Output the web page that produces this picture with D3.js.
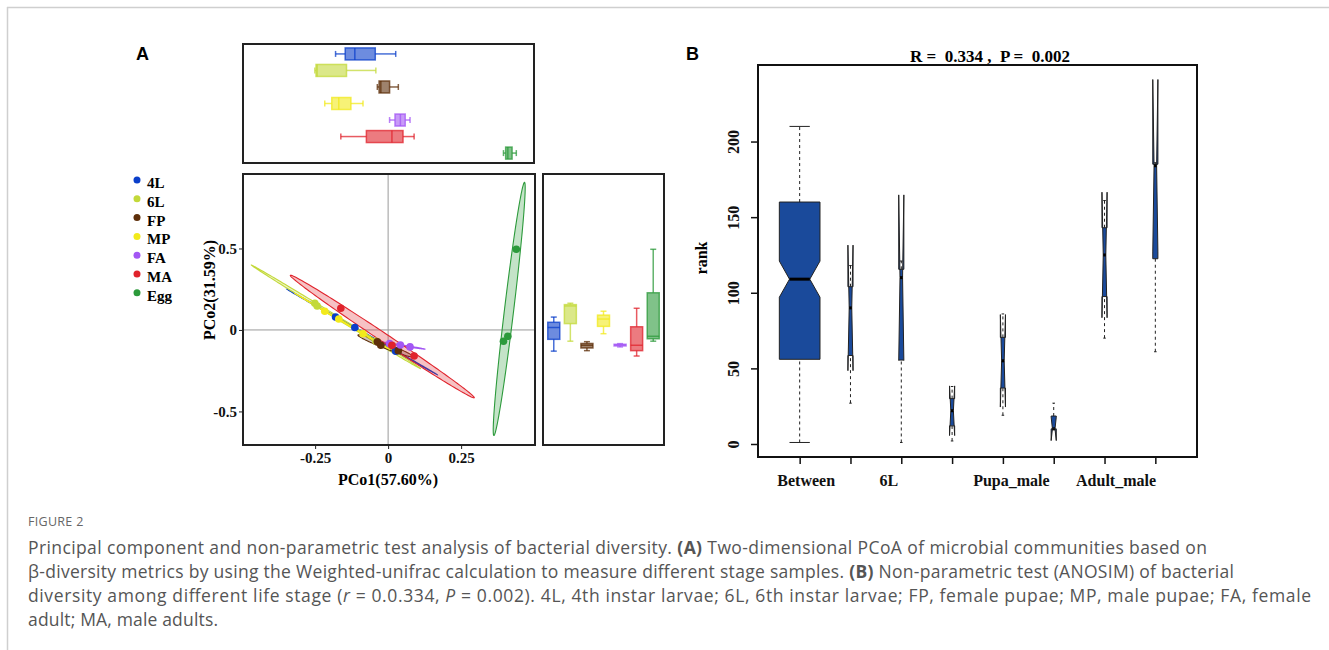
<!DOCTYPE html>
<html>
<head>
<meta charset="utf-8">
<script src="https://cdn.jsdelivr.net/npm/d3@7"></script>
<style>
  body { margin: 0; background: #fff; }
  svg { display: block; }
  .serif { font-family: "Liberation Serif", "Times New Roman", serif; font-weight: bold; }
  .cap { font-family: "Open Sans", "Noto Sans", sans-serif; fill: #555; }
</style>
</head>
<body>
<svg width="1329" height="650"></svg>
<script>
// --- Panel A data: PCoA scores (3 samples per stage) ---
const groups = ["4L", "6L", "FP", "MP", "FA", "MA", "Egg"];
const groupColors = ["#0b3fca", "#c3d93a", "#5e2f0a", "#f2ea1c", "#a357f4", "#e0232c", "#2c9a3b"];
const pco1 = [
  [-0.180, -0.114, 0.026],
  [-0.251, -0.243, -0.042],
  [-0.037, -0.025, 0.035],
  [-0.217, -0.169, -0.086],
  [0.005, 0.042, 0.075],
  [-0.162, 0.013, 0.089],
  [0.395, 0.410, 0.439]
];
const pco2 = [
  [0.079, 0.015, -0.130],
  [0.164, 0.147, -0.069],
  [-0.072, -0.094, -0.127],
  [0.115, 0.067, -0.023],
  [-0.084, -0.092, -0.104],
  [0.133, -0.094, -0.160],
  [-0.069, -0.039, 0.495]
];
const pcoXTicks = [-0.25, 0, 0.25];
const pcoYTicks = [-0.5, 0, 0.5];

// --- Panel B data: ANOSIM rank boxplots ---
const rankGroups = ["Between", "4L", "6L", "Pupa_female", "Pupa_male", "Adult_female", "Adult_male", "Egg"];
const rankMin = [1, 27, 1, 2, 19, 10, 70, 61];
const rankQ1 = [56, 58.5, 55.5, 12, 37, 10, 97.5, 122.5];
const rankMed = [109, 90, 110, 22, 55, 10, 125, 184];
const rankQ3 = [160, 104, 115.5, 30, 70.5, 18.5, 143, 185];
const rankMax = [210, 118, 121, 38, 86, 27, 161, 186];
const rankN = [189, 3, 3, 3, 3, 3, 3, 3];
const rankTicks = [0, 50, 100, 150, 200];

// --- Layout constants ---
const ELL_K = Math.sqrt(5.991); // 95% normal ellipse
const LABEL_NUDGE = { "Between": 6, "6L": -13, "Pupa_male": 8, "Adult_male": 11 };

const svg = d3.select("svg");

// --- Page frame ---
svg.append("line").attr("x1", 7).attr("x2", 1329).attr("y1", 7.5).attr("y2", 7.5)
  .attr("stroke", "#cfcfcf").attr("stroke-width", 1.5);
svg.append("line").attr("x1", 7.5).attr("x2", 7.5).attr("y1", 7).attr("y2", 650)
  .attr("stroke", "#cfcfcf").attr("stroke-width", 1.5);

svg.append("text").attr("x", 136).attr("y", 60).text("A")
  .style("font", "bold 18px 'Liberation Sans', Arial, sans-serif");
svg.append("text").attr("x", 686).attr("y", 60).text("B")
  .style("font", "bold 18px 'Liberation Sans', Arial, sans-serif");

// --- Panel A scales ---
const x = d3.scaleLinear().domain([-0.497, 0.503]).range([243, 535]);
const y = d3.scaleLinear().domain([-0.706, 0.957]).range([445, 174]);
const yTop = d3.scalePoint().domain(groups).range([44, 163]).padding(0.6);
const xRight = d3.scalePoint().domain(groups).range([543, 664]).padding(0.65);

function five(vals) {
  const s = vals.slice().sort(d3.ascending);
  return {
    min: s[0], q1: d3.quantileSorted(s, 0.25), med: d3.quantileSorted(s, 0.5),
    q3: d3.quantileSorted(s, 0.75), max: s[s.length - 1]
  };
}

function ellipsePoints(pts) {
  const n = pts.length;
  const mx = d3.mean(pts, d => d[0]), my = d3.mean(pts, d => d[1]);
  let a = 0, b = 0, d = 0;
  pts.forEach(p => {
    const dx = p[0] - mx, dy = p[1] - my;
    a += dx * dx; b += dx * dy; d += dy * dy;
  });
  a /= n - 1; b /= n - 1; d /= n - 1;
  const tr = (a + d) / 2, disc = Math.sqrt(((a - d) / 2) ** 2 + b * b);
  const l1 = tr + disc, l2 = Math.max(tr - disc, 0);
  let ex = b, ey = l1 - a;
  if (Math.hypot(ex, ey) < 1e-12) { ex = 1; ey = 0; }
  const nr = Math.hypot(ex, ey); ex /= nr; ey /= nr;
  const r1 = ELL_K * Math.sqrt(l1), r2 = ELL_K * Math.sqrt(l2);
  return d3.range(0, 360, 2).map(deg => {
    const t = deg * Math.PI / 180;
    const u = r1 * Math.cos(t), v = r2 * Math.sin(t);
    return [mx + u * ex - v * ey, my + u * ey + v * ex];
  });
}

// --- Panel A: main scatter ---
svg.append("clipPath").attr("id", "clipA").append("rect")
  .attr("x", 243).attr("y", 174).attr("width", 292).attr("height", 271);
const gA = svg.append("g").attr("clip-path", "url(#clipA)");

gA.append("line").attr("x1", x(0)).attr("x2", x(0)).attr("y1", 174).attr("y2", 445)
  .attr("stroke", "#9a9a9a").attr("stroke-width", 1);
gA.append("line").attr("x1", 243).attr("x2", 535).attr("y1", y(0)).attr("y2", y(0))
  .attr("stroke", "#9a9a9a").attr("stroke-width", 1);

const ellLine = d3.line().x(d => x(d[0])).y(d => y(d[1])).curve(d3.curveLinearClosed);
groups.forEach((g, i) => {
  const pts = pco1[i].map((v, j) => [v, pco2[i][j]]);
  gA.append("path").attr("d", ellLine(ellipsePoints(pts)))
    .attr("fill", groupColors[i]).attr("fill-opacity", 0.28)
    .attr("stroke", groupColors[i]).attr("stroke-width", 1.1);
});
groups.forEach((g, i) => {
  pco1[i].forEach((v, j) => {
    gA.append("circle").attr("cx", x(v)).attr("cy", y(pco2[i][j])).attr("r", 3.8)
      .attr("fill", groupColors[i]);
  });
});

svg.append("rect").attr("x", 243).attr("y", 174).attr("width", 292).attr("height", 271)
  .attr("fill", "none").attr("stroke", "#222").attr("stroke-width", 2);

// axes
const fmt = d => d === 0 ? "0" : String(d);
const axY = svg.append("g").attr("transform", "translate(243,0)")
  .call(d3.axisLeft(y).tickValues(pcoYTicks).tickFormat(fmt).tickSize(4).tickPadding(2));
const axX = svg.append("g").attr("transform", "translate(0,445)")
  .call(d3.axisBottom(x).tickValues(pcoXTicks).tickFormat(fmt).tickSize(4).tickPadding(3));
[axY, axX].forEach(ax => {
  ax.select(".domain").remove();
  ax.selectAll("line").attr("stroke", "#222");
  ax.selectAll("text").attr("class", "serif").style("font-size", "15px").attr("fill", "#111");
});

svg.append("text").attr("class", "serif").attr("transform", "translate(215,290) rotate(-90)")
  .attr("text-anchor", "middle").style("font-size", "16px").text("PCo2(31.59%)");
svg.append("text").attr("class", "serif").attr("x", 388).attr("y", 485)
  .attr("text-anchor", "middle").style("font-size", "16px").text("PCo1(57.60%)");

// legend
groups.forEach((g, i) => {
  const ly = 180 + i * 18.8;
  svg.append("circle").attr("cx", 137).attr("cy", ly).attr("r", 3.5).attr("fill", groupColors[i]);
  svg.append("text").attr("class", "serif").attr("x", 147).attr("y", ly + 8)
    .style("font-size", "15px").text(g);
});

// --- Panel A: top boxplots (PCo1) ---
const BOX_H = 12;
groups.forEach((g, i) => {
  const s = five(pco1[i]);
  const cy = yTop(g);
  const bg = svg.append("g").attr("stroke", groupColors[i]).attr("stroke-opacity", 0.75)
    .attr("stroke-width", 1.5);
  bg.append("line").attr("x1", x(s.min)).attr("x2", x(s.q1)).attr("y1", cy).attr("y2", cy);
  bg.append("line").attr("x1", x(s.q3)).attr("x2", x(s.max)).attr("y1", cy).attr("y2", cy);
  [s.min, s.max].forEach(v => bg.append("line").attr("x1", x(v)).attr("x2", x(v))
    .attr("y1", cy - 3).attr("y2", cy + 3));
  bg.append("rect").attr("x", x(s.q1)).attr("y", cy - BOX_H / 2)
    .attr("width", Math.max(x(s.q3) - x(s.q1), 1)).attr("height", BOX_H)
    .attr("fill", groupColors[i]).attr("fill-opacity", 0.6);
  bg.append("line").attr("x1", x(s.med)).attr("x2", x(s.med))
    .attr("y1", cy - BOX_H / 2).attr("y2", cy + BOX_H / 2);
});
svg.append("rect").attr("x", 243).attr("y", 44).attr("width", 291).attr("height", 119)
  .attr("fill", "none").attr("stroke", "#222").attr("stroke-width", 2);

// --- Panel A: right boxplots (PCo2) ---
groups.forEach((g, i) => {
  const s = five(pco2[i]);
  const cx = xRight(g);
  const bg = svg.append("g").attr("stroke", groupColors[i]).attr("stroke-opacity", 0.75)
    .attr("stroke-width", 1.5);
  bg.append("line").attr("x1", cx).attr("x2", cx).attr("y1", y(s.min)).attr("y2", y(s.q1));
  bg.append("line").attr("x1", cx).attr("x2", cx).attr("y1", y(s.q3)).attr("y2", y(s.max));
  [s.min, s.max].forEach(v => bg.append("line").attr("x1", cx - 3).attr("x2", cx + 3)
    .attr("y1", y(v)).attr("y2", y(v)));
  bg.append("rect").attr("x", cx - BOX_H / 2).attr("y", y(s.q3))
    .attr("width", BOX_H).attr("height", Math.max(y(s.q1) - y(s.q3), 1))
    .attr("fill", groupColors[i]).attr("fill-opacity", 0.6);
  bg.append("line").attr("x1", cx - BOX_H / 2).attr("x2", cx + BOX_H / 2)
    .attr("y1", y(s.med)).attr("y2", y(s.med));
});
svg.append("rect").attr("x", 543).attr("y", 174).attr("width", 121).attr("height", 271)
  .attr("fill", "none").attr("stroke", "#222").attr("stroke-width", 2);

// --- Panel B: notched boxplots of ranks ---
const nGroups = rankGroups.length;
const xB = d3.scaleLinear()
  .domain([0.5 - 0.04 * nGroups, nGroups + 0.5 + 0.04 * nGroups]).range([758, 1197]);
const notch = rankGroups.map((g, i) => 1.58 * (rankQ3[i] - rankQ1[i]) / Math.sqrt(rankN[i]));
const lo = d3.min(rankGroups, (g, i) => Math.min(rankMin[i], rankMed[i] - notch[i]));
const hi = d3.max(rankGroups, (g, i) => Math.max(rankMax[i], rankMed[i] + notch[i]));
const padB = (hi - lo) * 0.04;
const yB = d3.scaleLinear().domain([lo - padB, hi + padB]).range([457, 65]);
const maxN = d3.max(rankN);

const polyLine = d3.line().x(d => xB(d[0])).y(d => yB(d[1])).curve(d3.curveLinearClosed);
rankGroups.forEach((g, i) => {
  const at = i + 1;
  const w = 0.8 * Math.sqrt(rankN[i]) / Math.sqrt(maxN) / 2;
  const cLo = rankMed[i] - notch[i], cHi = rankMed[i] + notch[i];
  const poly = [
    [at - w, rankQ1[i]], [at + w, rankQ1[i]], [at + w, cLo], [at + w * 0.5, rankMed[i]],
    [at + w, cHi], [at + w, rankQ3[i]], [at - w, rankQ3[i]], [at - w, cHi],
    [at - w * 0.5, rankMed[i]], [at - w, cLo]
  ];
  svg.append("path").attr("d", polyLine(poly))
    .attr("fill", "#1a4a9b").attr("stroke", "#222").attr("stroke-width", 1);
  svg.append("line").attr("x1", xB(at - w * 0.5)).attr("x2", xB(at + w * 0.5))
    .attr("y1", yB(rankMed[i])).attr("y2", yB(rankMed[i]))
    .attr("stroke", "#000").attr("stroke-width", 3);
  [[rankMin[i], rankQ1[i]], [rankQ3[i], rankMax[i]]].forEach(([a, b]) => {
    if (a === b) return;
    svg.append("line").attr("x1", xB(at)).attr("x2", xB(at)).attr("y1", yB(a)).attr("y2", yB(b))
      .attr("stroke", "#222").attr("stroke-width", 1).attr("stroke-dasharray", "3,3");
  });
  [rankMin[i], rankMax[i]].forEach(v => {
    svg.append("line").attr("x1", xB(at - w * 0.5)).attr("x2", xB(at + w * 0.5))
      .attr("y1", yB(v)).attr("y2", yB(v)).attr("stroke", "#222").attr("stroke-width", 1);
  });
});

svg.append("rect").attr("x", 758).attr("y", 65).attr("width", 439).attr("height", 392)
  .attr("fill", "none").attr("stroke", "#111").attr("stroke-width", 2);

const axYB = svg.append("g").attr("transform", "translate(758,0)")
  .call(d3.axisLeft(yB).tickValues(rankTicks).tickSize(7));
axYB.select(".domain").remove();
axYB.selectAll("line").attr("stroke", "#111").attr("stroke-width", 1.5);
axYB.selectAll("text").attr("class", "serif").style("font-size", "16px").attr("fill", "#111")
  .attr("transform", "rotate(-90)").attr("x", 0).attr("y", -19).attr("dy", 0)
  .attr("text-anchor", "middle");

const axXB = svg.append("g").attr("transform", "translate(0,457)")
  .call(d3.axisBottom(xB).tickValues(d3.range(1, nGroups + 1)).tickSize(7)
    .tickFormat(d => (d % 2 === 1 ? rankGroups[d - 1] : "")));
axXB.select(".domain").remove();
axXB.selectAll("line").attr("stroke", "#111").attr("stroke-width", 1.5);
axXB.selectAll("text").attr("class", "serif").style("font-size", "16px").attr("fill", "#111")
  .attr("y", 29).attr("dy", 0)
  .attr("x", d => LABEL_NUDGE[rankGroups[d - 1]] || 0);

svg.append("text").attr("class", "serif").attr("transform", "translate(707,258) rotate(-90)")
  .attr("text-anchor", "middle").style("font-size", "16px").text("rank");
svg.append("text").attr("class", "serif").attr("x", 990).attr("y", 62)
  .attr("text-anchor", "middle").style("font-size", "17px").style("white-space", "pre")
  .text("R =  0.334 ,  P =  0.002");

// --- Caption ---
svg.append("text").attr("class", "cap").attr("x", 28).attr("y", 526)
  .style("font-size", "12.5px").style("letter-spacing", "0.3px").style("fill", "#666")
  .text("FIGURE 2");

const capLines = [
  [["Principal component and non-parametric test analysis of bacterial diversity. ", ""], ["(A)", "b"],
   [" Two-dimensional PCoA of microbial communities based on", ""]],
  [["β-diversity metrics by using the Weighted-unifrac calculation to measure different stage samples. ", ""],
   ["(B)", "b"], [" Non-parametric test (ANOSIM) of bacterial", ""]],
  [["diversity among different life stage (", ""], ["r", "i"], [" = 0.0.334, ", ""], ["P", "i"],
   [" = 0.002). 4L, 4th instar larvae; 6L, 6th instar larvae; FP, female pupae; MP, male pupae; FA, female", ""]],
  [["adult; MA, male adults.", ""]]
];
const capWidths = [1179, 1206, 1283, 190];
capLines.forEach((parts, li) => {
  const t = svg.append("text").attr("class", "cap").attr("x", 28).attr("y", 554 + li * 24)
    .attr("textLength", capWidths[li]).attr("lengthAdjust", "spacing")
    .style("font-size", "17.5px").style("white-space", "pre");
  parts.forEach(([s, st]) => {
    const sp = t.append("tspan").text(s);
    if (st === "b") sp.style("font-weight", "bold");
    if (st === "i") sp.style("font-style", "italic");
  });
});
</script>
</body>
</html>
